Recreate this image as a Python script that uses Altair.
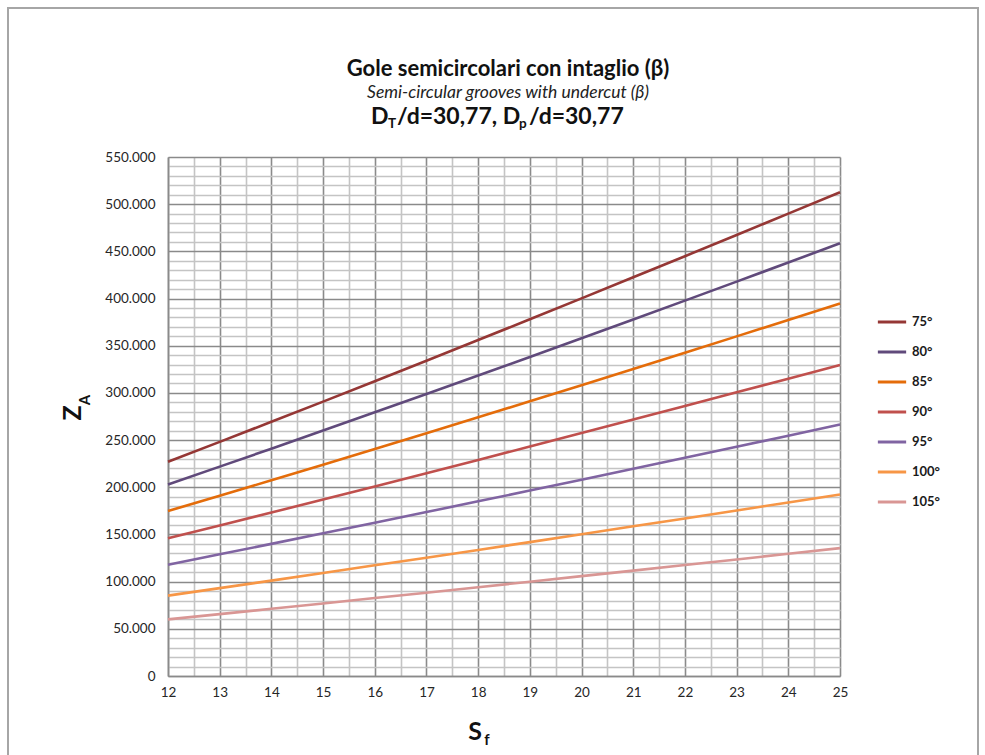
import altair as alt
import pandas as pd

# ---------------- data ----------------
S_F = [12, 13, 14, 15, 16, 17, 18, 19, 20, 21, 22, 23, 24, 25]
ANGLES = ["75°", "80°", "85°", "90°", "95°", "100°", "105°"]
COLORS = ["#953735", "#604A7B", "#E46C0A", "#C0504D", "#8064A2", "#F79646", "#D99694"]

Z_75 = [227000, 248100, 269400, 290800, 312400, 334100, 356000, 378000, 400200, 422500, 444900, 467300, 490000, 512700]
Z_80 = [203000, 221900, 240900, 260100, 279400, 298800, 318400, 338100, 357900, 377800, 397800, 417900, 438200, 458500]
Z_85 = [174800, 191000, 207400, 223900, 240600, 257300, 274200, 291100, 308200, 325300, 342600, 359900, 377300, 394800]
Z_90 = [146000, 159600, 173200, 187000, 200900, 214900, 229000, 243100, 257400, 271700, 286100, 300600, 315100, 329700]
Z_95 = [118000, 129000, 140000, 151200, 162400, 173700, 185100, 196500, 208000, 219600, 231200, 242900, 254700, 266500]
Z_100 = [85200, 93100, 101100, 109200, 117300, 125400, 133600, 141900, 150200, 158600, 167000, 175400, 183900, 192400]
Z_105 = [60000, 65600, 71200, 76900, 82600, 88300, 94100, 99900, 105800, 111700, 117600, 123500, 129500, 135500]

SERIES = [Z_75, Z_80, Z_85, Z_90, Z_95, Z_100, Z_105]

rows = []
for ang, vals in zip(ANGLES, SERIES):
    for s, z in zip(S_F, vals):
        rows.append({"S": s, "Z": z, "angle": ang})
df = pd.DataFrame(rows)

# ---------------- layout constants ----------------
LEFT, TOP = 168, 157
W, H = 672, 519
PAGE_W, PAGE_H = 985, 755
FONT = "Lato"

def rx(px):
    return px - LEFT

def ry(py):
    return py - TOP

one = pd.DataFrame({"k": [0]})

x_ticks = [12 + 0.5 * i for i in range(27)]
y_ticks = [10000 * i for i in range(56)]

MAJOR = "#8a8a8a"
MINOR = "#c4c4c4"

lines = alt.Chart(df).mark_line(strokeWidth=2.6).encode(
    x=alt.X("S:Q",
            scale=alt.Scale(domain=[12, 25], nice=False, zero=False),
            axis=alt.Axis(values=x_ticks, title=None, ticks=False,
                          labelExpr="datum.value % 1 == 0 ? format(datum.value, 'd') : ''",
                          labelOverlap=False, labelFlush=False,
                          labelFont=FONT, labelFontSize=13.5, labelColor="#262626",
                          labelPadding=9,
                          grid=True, gridWidth=1.6,
                          gridColor={"condition": {"test": "datum.value % 1 != 0", "value": MINOR}, "value": MAJOR},
                          domainColor=MAJOR, domainWidth=1.6)),
    y=alt.Y("Z:Q",
            scale=alt.Scale(domain=[0, 550000], nice=False),
            axis=alt.Axis(values=y_ticks, title=None, ticks=False,
                          labelExpr="datum.value % 50000 == 0 ? replace(format(datum.value, ','), ',', '.') : ''",
                          labelOverlap=False, labelFlush=False,
                          labelFont=FONT, labelFontSize=13.5, labelColor="#262626",
                          labelPadding=13,
                          grid=True, gridWidth=1.6,
                          gridColor={"condition": {"test": "datum.value % 50000 != 0", "value": MINOR}, "value": MAJOR},
                          domainColor=MAJOR, domainWidth=1.6)),
    color=alt.Color("angle:N",
                    scale=alt.Scale(domain=ANGLES, range=COLORS),
                    legend=alt.Legend(orient="none", legendX=rx(876), legendY=ry(306),
                                      title=None, symbolType="stroke", symbolStrokeWidth=3,
                                      symbolSize=800, labelFont=FONT, labelFontSize=13,
                                      labelFontWeight="bold", labelColor="#1a1a1a",
                                      labelOffset=4, rowPadding=7, padding=0)),
    detail="angle:N",
)

border = alt.Chart(one).mark_rect(fill="transparent", stroke="#a6a6a6", strokeWidth=2).encode(
    x=alt.value(rx(8)), x2=alt.value(rx(978)), y=alt.value(ry(8)), y2=alt.value(ry(790)))

def txt(text, px, py, size, weight="normal", style="normal", align="center", color="#111111"):
    return alt.Chart(one).mark_text(text=text, fontSize=size, fontWeight=weight, fontStyle=style,
                                    align=align, baseline="alphabetic", font=FONT, color=color).encode(
        x=alt.value(rx(px)), y=alt.value(ry(py)))

title1 = txt("Gole semicircolari con intaglio (β)", 508, 76, 22, weight="bold")
title2 = txt("Semi-circular grooves with undercut (β)", 508, 98, 17.5, style="italic", color="#222222")
t3a = txt("D", 371, 124, 23, weight="bold", align="left")
t3b = txt("T", 388, 128, 13.5, weight="bold", align="left")
t3c = txt("/d=30,77, D", 397, 124, 23, weight="bold", align="left")
t3d = txt("p", 519, 128, 13.5, weight="bold", align="left")
t3e = txt("/d=30,77", 529, 124, 23, weight="bold", align="left")

ztitle = alt.Chart(one).mark_text(text="Z", fontSize=25, fontWeight="bold", font=FONT, angle=270,
                                  align="center", baseline="middle", color="#111111").encode(
    x=alt.value(rx(73)), y=alt.value(ry(413)))
atitle = alt.Chart(one).mark_text(text="A", fontSize=15, fontWeight="bold", font=FONT, angle=270,
                                  align="center", baseline="middle", color="#111111").encode(
    x=alt.value(rx(85)), y=alt.value(ry(400)))

stitle = txt("S", 475, 740, 25, weight="bold")
ftitle = txt("f", 487, 745, 15, weight="bold")

chart = alt.layer(border, lines, title1, title2, t3a, t3b, t3c, t3d, t3e,
                  ztitle, atitle, stitle, ftitle).properties(
    width=W, height=H,
    autosize=alt.AutoSizeParams(type="none"),
    padding={"left": LEFT, "top": TOP, "right": PAGE_W - LEFT - W, "bottom": PAGE_H - TOP - H},
    background="white",
).configure_view(stroke=None)

chart.save("out.html", embed_options={"renderer": "svg", "actions": False})
